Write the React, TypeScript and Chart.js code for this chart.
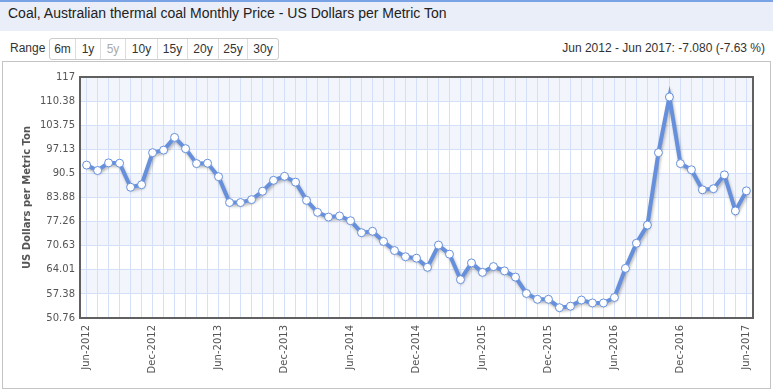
import React, { useEffect, useRef } from "react";
import { Chart, registerables } from "chart.js";

Chart.register(...registerables);

const months: string[] = [
  "Jun-2012", "Jul-2012", "Aug-2012", "Sep-2012", "Oct-2012", "Nov-2012",
  "Dec-2012", "Jan-2013", "Feb-2013", "Mar-2013", "Apr-2013", "May-2013",
  "Jun-2013", "Jul-2013", "Aug-2013", "Sep-2013", "Oct-2013", "Nov-2013",
  "Dec-2013", "Jan-2014", "Feb-2014", "Mar-2014", "Apr-2014", "May-2014",
  "Jun-2014", "Jul-2014", "Aug-2014", "Sep-2014", "Oct-2014", "Nov-2014",
  "Dec-2014", "Jan-2015", "Feb-2015", "Mar-2015", "Apr-2015", "May-2015",
  "Jun-2015", "Jul-2015", "Aug-2015", "Sep-2015", "Oct-2015", "Nov-2015",
  "Dec-2015", "Jan-2016", "Feb-2016", "Mar-2016", "Apr-2016", "May-2016",
  "Jun-2016", "Jul-2016", "Aug-2016", "Sep-2016", "Oct-2016", "Nov-2016",
  "Dec-2016", "Jan-2017", "Feb-2017", "Mar-2017", "Apr-2017", "May-2017",
  "Jun-2017",
];

const prices: number[] = [
  92.79, 91.3, 93.4, 93.3, 86.7, 87.4,
  96.2, 96.9, 100.4, 97.3, 93.2, 93.3,
  89.6, 82.5, 82.5, 83.3, 85.6, 88.6,
  89.7, 88.1, 83.1, 79.8, 78.5, 78.8,
  77.5, 74.2, 74.6, 71.8, 69.3, 67.6,
  67.2, 64.7, 70.8, 68.3, 61.3, 65.9,
  63.3, 64.9, 63.7, 62.0, 57.5, 55.9,
  55.9, 53.6, 54.0, 55.7, 54.9, 54.9,
  56.4, 64.4, 71.3, 76.3, 96.2, 111.5,
  93.2, 91.5, 86.0, 86.3, 90.1, 80.2,
  85.71,
];

const yTickLabels: string[] = [
  "50.76", "57.38", "64.01", "70.63", "77.26", "83.88",
  "90.5", "97.13", "103.75", "110.38", "117",
];

const xTickLabels: string[] = [
  "Jun-2012", "Dec-2012", "Jun-2013", "Dec-2013", "Jun-2014", "Dec-2014",
  "Jun-2015", "Dec-2015", "Jun-2016", "Dec-2016", "Jun-2017",
];

const rangeButtons: string[] = ["6m", "1y", "5y", "10y", "15y", "20y", "25y", "30y"];
const rangeWidths: number[] = [26, 25, 25, 32, 30, 31, 29, 31];

const TITLE = "Coal, Australian thermal coal Monthly Price - US Dollars per Metric Ton";
const CHANGE_TEXT = "Jun 2012 - Jun 2017: -7.080 (-7.63 %)";
const Y_TITLE = "US Dollars per Metric Ton";

const LINE_COLOR = "#6690dc";
const GRID_COLOR = "#d3e0f8";
const BAND_COLOR = "#f3f5fc";
const TICK_COLOR = "#555555";

export default function App() {
  const canvasRef = useRef<HTMLCanvasElement | null>(null);

  useEffect(() => {
    const canvas = canvasRef.current;
    if (!canvas) return;
    const yVals = yTickLabels.map((s) => parseFloat(s));

    const bandPlugin = {
      id: "bands",
      beforeDraw(chart: any) {
        const { ctx, chartArea } = chart;
        const y = chart.scales.y;
        ctx.save();
        ctx.fillStyle = BAND_COLOR;
        for (let k = 0; k < yVals.length - 1; k++) {
          if ((yVals.length - 2 - k) % 2 === 0) {
            const top = y.getPixelForValue(yVals[k + 1]);
            const bot = y.getPixelForValue(yVals[k]);
            ctx.fillRect(chartArea.left, top, chartArea.right - chartArea.left, bot - top);
          }
        }
        ctx.restore();
      },
      afterDraw(chart: any) {
        const { ctx, chartArea } = chart;
        ctx.save();
        ctx.strokeStyle = "#606060";
        ctx.lineWidth = 2;
        ctx.strokeRect(chartArea.left, chartArea.top, chartArea.right - chartArea.left, chartArea.bottom - chartArea.top);
        ctx.translate(27, (chartArea.top + chartArea.bottom) / 2);
        ctx.rotate(-Math.PI / 2);
        ctx.font = 'bold 10px "DejaVu Sans"';
        ctx.fillStyle = TICK_COLOR;
        ctx.textAlign = "center";
        ctx.textBaseline = "middle";
        ctx.fillText(Y_TITLE, 0, 0);
        ctx.restore();
      },
    };

    const shadowPlugin = {
      id: "lineShadow",
      beforeDatasetDraw(chart: any, args: any) {
        if (args.index !== 0) return;
        const ctx = chart.ctx;
        ctx.save();
        ctx.shadowColor = "rgba(0,0,0,0.28)";
        ctx.shadowBlur = 3;
        ctx.shadowOffsetX = 1;
        ctx.shadowOffsetY = 2;
      },
      afterDatasetDraw(chart: any, args: any) {
        if (args.index !== 0) return;
        chart.ctx.restore();
      },
    };

    const data = prices.map((v, i) => ({ x: i, y: v }));

    const chart = new Chart(canvas, {
      type: "line",
      data: {
        datasets: [
          {
            data,
            order: 2,
            borderColor: LINE_COLOR,
            borderWidth: 4,
            pointRadius: 0,
            tension: 0,
            fill: false,
          },
          {
            data,
            order: 1,
            showLine: false,
            pointRadius: 4,
            pointBackgroundColor: "#ffffff",
            pointBorderColor: LINE_COLOR,
            pointBorderWidth: 1,
          },
        ],
      },
      options: {
        animation: false,
        responsive: false,
        maintainAspectRatio: false,
        layout: { padding: { left: 0, top: 77, right: 20, bottom: 0 } },
        plugins: { legend: { display: false }, tooltip: { enabled: false } },
        scales: {
          x: {
            type: "linear",
            min: -0.6,
            max: 60.6,
            afterBuildTicks: (scale: any) => {
              scale.ticks = months.map((_, i) => ({ value: i }));
            },
            afterFit: (scale: any) => {
              scale.height = 391 - 318;
            },
            grid: { color: GRID_COLOR, lineWidth: 1, drawTicks: false },
            border: { display: false },
            ticks: {
              autoSkip: false,
              maxRotation: 90,
              minRotation: 90,
              padding: 7,
              color: TICK_COLOR,
              font: { family: '"DejaVu Sans"', size: 10 },
              callback: (value: any) => {
                const i = Math.round(Number(value));
                return i % 6 === 0 ? xTickLabels[i / 6] : "";
              },
            },
          },
          y: {
            type: "linear",
            min: 50.76,
            max: 117,
            afterBuildTicks: (scale: any) => {
              scale.ticks = yVals.map((v) => ({ value: v }));
            },
            afterFit: (scale: any) => {
              scale.width = 80;
            },
            grid: { color: GRID_COLOR, lineWidth: 1, drawTicks: false },
            border: { display: false },
            ticks: {
              padding: 5,
              color: TICK_COLOR,
              font: { family: '"DejaVu Sans"', size: 10 },
              callback: (_v: any, index: number) => yTickLabels[index],
            },
          },
        },
      },
      plugins: [bandPlugin, shadowPlugin],
    });
    return () => chart.destroy();
  }, []);

  return (
    <div
      style={{
        position: "absolute",
        left: 0,
        top: 0,
        width: 773,
        height: 391,
        background: "#ffffff",
        overflow: "hidden",
        fontFamily: 'Arial, "Liberation Sans", sans-serif',
      }}
    >
      <div
        style={{
          position: "absolute",
          left: 0,
          top: 0,
          width: 773,
          height: 29,
          background: "#e9eef8",
          borderTop: "2px solid #7aa3e6",
        }}
      />
      <div
        style={{
          position: "absolute",
          left: 8,
          top: 5,
          fontSize: 14,
          color: "#222",
          whiteSpace: "nowrap",
        }}
      >
        {TITLE}
      </div>
      <div
        style={{
          position: "absolute",
          left: 10,
          top: 41,
          fontSize: 12,
          color: "#333",
        }}
      >
        Range
      </div>
      <div
        style={{
          position: "absolute",
          left: 49,
          top: 38,
          height: 20,
          display: "flex",
          border: "1px solid #cccccc",
          borderRadius: 3,
          background: "#fff",
        }}
      >
        {rangeButtons.map((b, i) => (
          <div
            key={b}
            style={{
              width: rangeWidths[i] - 1,
              borderLeft: i === 0 ? "none" : "1px solid #dddddd",
              textAlign: "center",
              lineHeight: "20px",
              fontSize: 12,
              color: b === "5y" ? "#aaaaaa" : "#333",
            }}
          >
            {b}
          </div>
        ))}
      </div>
      <div
        style={{
          position: "absolute",
          right: 8,
          top: 41,
          fontSize: 12,
          color: "#333",
          whiteSpace: "nowrap",
        }}
      >
        {CHANGE_TEXT}
      </div>
      <div
        style={{
          position: "absolute",
          left: 2,
          top: 61,
          width: 767,
          height: 326,
          border: "1px solid #c4c4c4",
          background: "#ffffff",
        }}
      />
      <canvas
        ref={canvasRef}
        width={773}
        height={391}
        style={{ position: "absolute", left: 0, top: 0, width: 773, height: 391 }}
      />
    </div>
  );
}
